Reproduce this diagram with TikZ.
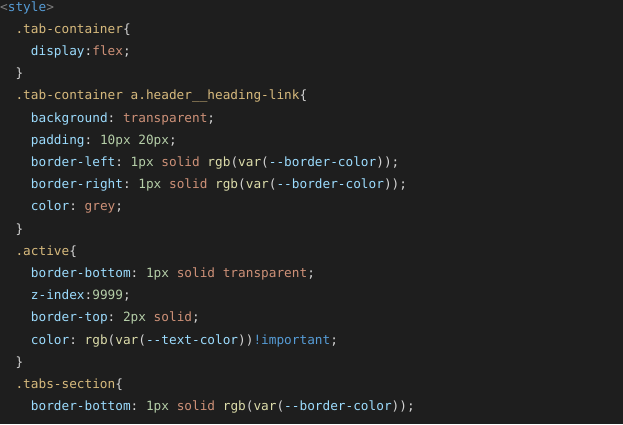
\documentclass[tikz,border=0pt]{standalone}
\usepackage{fontspec}
\setmonofont{DejaVu Sans Mono}
\usetikzlibrary{positioning}
\definecolor{bgcol}{HTML}{1E1E1E}
\definecolor{puncol}{HTML}{D4D4D4}
\definecolor{angcol}{HTML}{808080}
\definecolor{tagcol}{HTML}{569CD6}
\definecolor{selcol}{HTML}{D7BA7D}
\definecolor{propcol}{HTML}{9CDCFE}
\definecolor{valcol}{HTML}{CE9178}
\definecolor{numcol}{HTML}{B5CEA8}
\definecolor{fncol}{HTML}{DCDCAA}
\tikzstyle{codeline} = [anchor=base west, inner sep=0pt, text=puncol, font=\ttfamily\fontsize{12.75}{22.2}\selectfont]
\newcommand{\cang}[1]{\textcolor{angcol}{#1}}
\newcommand{\ctag}[1]{\textcolor{tagcol}{#1}}
\newcommand{\csel}[1]{\textcolor{selcol}{#1}}
\newcommand{\cprop}[1]{\textcolor{propcol}{#1}}
\newcommand{\cval}[1]{\textcolor{valcol}{#1}}
\newcommand{\cnum}[1]{\textcolor{numcol}{#1}}
\newcommand{\cfn}[1]{\textcolor{fncol}{#1}}
\newcommand{\codeLine}[4]{
  \def\charW{7.68};
  \def\lineH{22.2};
  \node[codeline] (#1) at (#2*\charW pt, -11pt-#3*\lineH pt) {#4};
}

\begin{document}
\begin{tikzpicture}
      \fill[bgcol] (0,0) rectangle (623pt,-424pt);
      \useasboundingbox (0,0) rectangle (623pt,-424pt);

      % first rule
      \codeLine{l0}{0}{0}{\cang{<}\ctag{style}\cang{>}}
      \codeLine{l1}{2}{1}{\csel{.tab-container}\{}
      \codeLine{l2}{4}{2}{\cprop{display}:\cval{flex};}
      \codeLine{l3}{2}{3}{\}}

      % links
      \codeLine{l4}{2}{4}{\csel{.tab-container a.header\_\_heading-link}\{}
      \codeLine{l5}{4}{5}{\cprop{background}: \cval{transparent};}
      \codeLine{l6}{4}{6}{\cprop{padding}: \cnum{10px 20px};}
      \codeLine{l7}{4}{7}{\cprop{border-left}: \cnum{1px} \cval{solid} \cfn{rgb}(\cfn{var}(\cprop{--border-color}));}
      \codeLine{l8}{4}{8}{\cprop{border-right}: \cnum{1px} \cval{solid} \cfn{rgb}(\cfn{var}(\cprop{--border-color}));}
      \codeLine{l9}{4}{9}{\cprop{color}: \cval{grey};}
      \codeLine{l10}{2}{10}{\}}

      % active tab
      \codeLine{l11}{2}{11}{\csel{.active}\{}
      \codeLine{l12}{4}{12}{\cprop{border-bottom}: \cnum{1px} \cval{solid transparent};}
      \codeLine{l13}{4}{13}{\cprop{z-index}:\cnum{9999};}
      \codeLine{l14}{4}{14}{\cprop{border-top}: \cnum{2px} \cval{solid};}
      \codeLine{l15}{4}{15}{\cprop{color}: \cfn{rgb}(\cfn{var}(\cprop{--text-color}))\ctag{!important};}
      \codeLine{l16}{2}{16}{\}}

      % section
      \codeLine{l17}{2}{17}{\csel{.tabs-section}\{}
      \codeLine{l18}{4}{18}{\cprop{border-bottom}: \cnum{1px} \cval{solid} \cfn{rgb}(\cfn{var}(\cprop{--border-color}));}
    \end{tikzpicture}
\end{document}
